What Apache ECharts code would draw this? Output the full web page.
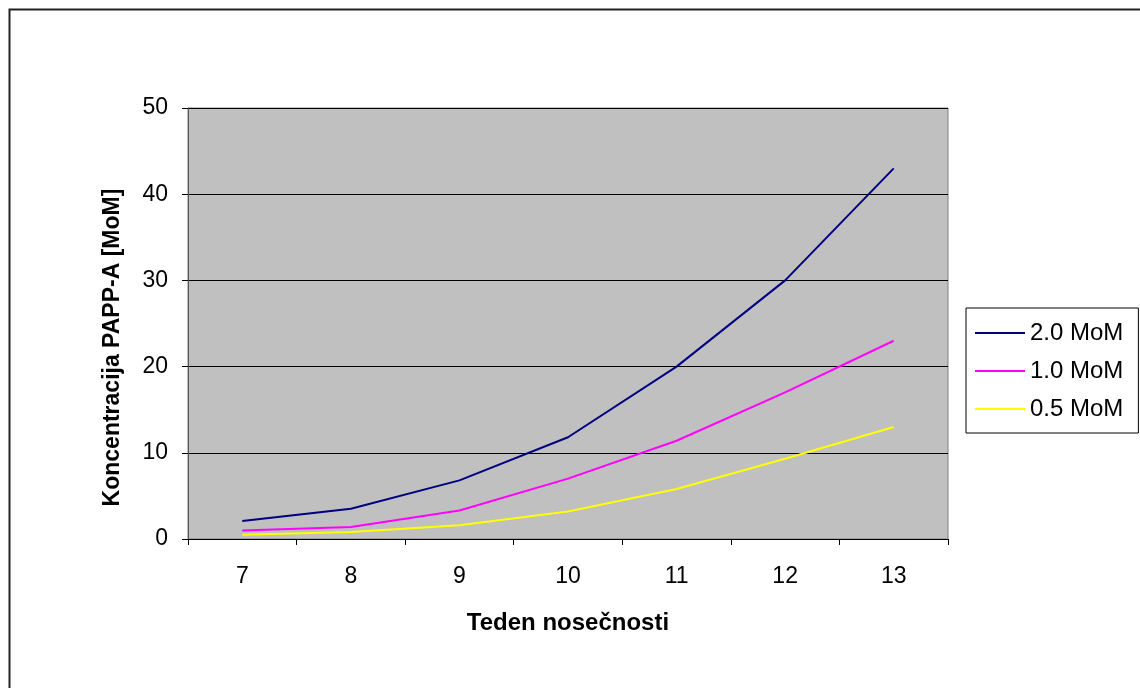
<!DOCTYPE html>
<html>
<head>
<meta charset="utf-8">
<script src="https://cdn.jsdelivr.net/npm/echarts@6/dist/echarts.min.js"></script>
<style>
  html, body { margin: 0; padding: 0; background: #fff; }
  #chart { width: 1140px; height: 688px; }
</style>
</head>
<body>
<div id="chart"></div>
<script>
// teden nosečnosti
const weeks = ['7', '8', '9', '10', '11', '12', '13']
const mom20 = [2.1, 3.5, 6.8, 11.8, 20, 30, 43]
const mom10 = [1.0, 1.4, 3.3, 7.0, 11.4, 17, 23]
const mom05 = [0.5, 0.8, 1.6, 3.2, 5.8, 9.3, 13]
const seriesNames = ['2.0 MoM', '1.0 MoM', '0.5 MoM']
const colors = ['#000080', '#FF00FF', '#FFFF00']

const chart = echarts.init(document.getElementById('chart'))
const font = 'Arial, "Liberation Sans", sans-serif'

function lineSeries(name, data, color) {
  return {
    name: name,
    type: 'line',
    data: data,
    showSymbol: false,
    symbol: 'none',
    lineStyle: { color: color, width: 2 },
    itemStyle: { color: color },
    z: 3
  }
}

chart.setOption({
  animation: false,
  textStyle: { fontFamily: font },
  graphic: [{
    type: 'rect',
    left: 7,
    top: 7,
    shape: { width: 1200, height: 800 },
    style: { fill: 'none', stroke: '#222', lineWidth: 2 },
    silent: true
  }],
  grid: {
    left: 188,
    right: 192,
    top: 108,
    bottom: 149,
    show: true,
    backgroundColor: '#C0C0C0',
    borderColor: '#808080',
    borderWidth: 1
  },
  legend: {
    orient: 'vertical',
    left: 966,
    top: 308,
    data: seriesNames,
    icon: 'rect',
    itemWidth: 50,
    itemHeight: 2,
    itemGap: 14,
    padding: [13, 15, 12, 9],
    borderColor: '#000',
    borderWidth: 1,
    backgroundColor: '#fff',
    textStyle: { fontSize: 24, color: '#000', fontFamily: font, lineHeight: 24 }
  },
  xAxis: {
    type: 'category',
    data: weeks,
    boundaryGap: true,
    name: 'Teden nosečnosti',
    nameLocation: 'middle',
    nameGap: 72,
    nameTextStyle: { fontSize: 24, fontWeight: 'bold', color: '#000', fontFamily: font },
    axisLine: { lineStyle: { color: '#000', width: 1 } },
    axisTick: { show: true, inside: false, length: 6, lineStyle: { color: '#000' } },
    axisLabel: { fontSize: 23, color: '#000', margin: 26 },
    splitLine: { show: false }
  },
  yAxis: {
    type: 'value',
    min: 0,
    max: 50,
    interval: 10,
    name: 'Koncentracija PAPP-A [MoM]',
    nameLocation: 'middle',
    nameGap: 64,
    nameTextStyle: {
      fontSize: 23, fontWeight: 'bold', color: '#000', fontFamily: font,
      padding: [0, 48, 0, 0]
    },
    axisLine: { show: true, lineStyle: { color: '#555', width: 1 } },
    axisTick: { show: true, inside: false, length: 6, lineStyle: { color: '#000' } },
    axisLabel: { fontSize: 23, color: '#000', margin: 20 },
    splitLine: { show: true, lineStyle: { color: '#000', width: 1 } }
  },
  series: [
    lineSeries(seriesNames[0], mom20, colors[0]),
    lineSeries(seriesNames[1], mom10, colors[1]),
    lineSeries(seriesNames[2], mom05, colors[2])
  ]
})
</script>
</body>
</html>
